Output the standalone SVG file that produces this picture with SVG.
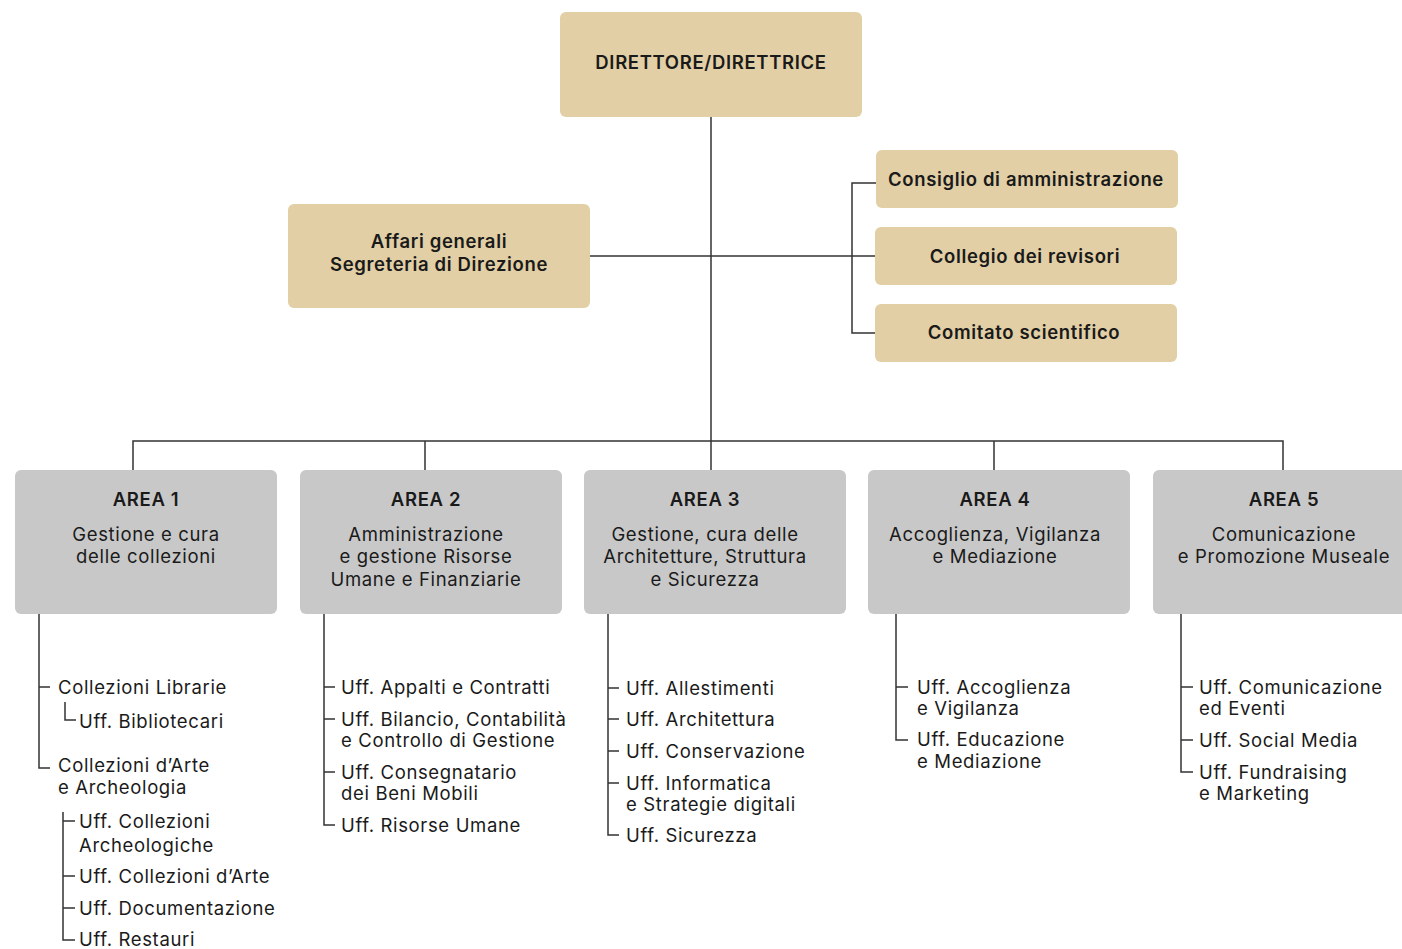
<svg xmlns="http://www.w3.org/2000/svg" width="1402" height="949" viewBox="0 0 1402 949">
<style>
text{font-family:Inter,"Noto Sans","Liberation Sans",sans-serif;fill:#1a1a1a;font-size:18.5px;letter-spacing:0.65px}
.b{font-weight:600}
.c{text-anchor:middle}
.gold{fill:#e2cfa5}
.gray{fill:#c8c8c8}
.ln{stroke:#333;stroke-width:1.5;fill:none}
</style>
<rect width="1402" height="949" fill="#fff"/>
<g id="connectors" class="ln">
<path d="M711 117V470"/>
<path d="M590 256H876"/>
<path d="M876 183H852V333H876"/>
<path d="M133 470V441H1283V470M425 441V470M994 441V470"/>
<path d="M39 614V768H50M39 687H50M65 702V720H76"/>
<path d="M63 812V940H75M63 821H75M63 876H75M63 908H75"/>
<path d="M324 614V825H335M324 687H335M324 719H335M324 772H335"/>
<path d="M608 614V835H619M608 688H619M608 719H619M608 751H619M608 783H619"/>
<path d="M896 614V740H908M896 687H908"/>
<path d="M1181 614V772H1193M1181 687H1193M1181 740H1193"/>
</g>
<g id="direttore"><rect class="gold" x="560" y="12" width="302" height="105" rx="6"/><text class="b c" x="711" y="69">DIRETTORE/DIRETTRICE</text></g>
<g id="affari"><rect class="gold" x="288" y="204" width="302" height="104" rx="6"/><text class="b c" x="439" y="248">Affari generali</text><text class="b c" x="439" y="271">Segreteria di Direzione</text></g>
<g id="consiglio"><rect class="gold" x="876" y="150" width="302" height="58" rx="6"/><text class="b c" x="1026" y="186">Consiglio di amministrazione</text></g>
<g id="collegio"><rect class="gold" x="875" y="227" width="302" height="58" rx="6"/><text class="b c" x="1025" y="263">Collegio dei revisori</text></g>
<g id="comitato"><rect class="gold" x="875" y="304" width="302" height="58" rx="6"/><text class="b c" x="1024" y="339">Comitato scientifico</text></g>
<g id="area1"><rect class="gray" x="15" y="470" width="262" height="144" rx="6"/><text class="b c" x="146" y="506">AREA 1</text><text class="c" x="146" y="541">Gestione e cura</text><text class="c" x="146" y="563">delle collezioni</text></g>
<g id="area2"><rect class="gray" x="300" y="470" width="262" height="144" rx="6"/><text class="b c" x="426" y="506">AREA 2</text><text class="c" x="426" y="541">Amministrazione</text><text class="c" x="426" y="563">e gestione Risorse</text><text class="c" x="426" y="586">Umane e Finanziarie</text></g>
<g id="area3"><rect class="gray" x="584" y="470" width="262" height="144" rx="6"/><text class="b c" x="705" y="506">AREA 3</text><text class="c" x="705" y="541">Gestione, cura delle</text><text class="c" x="705" y="563">Architetture, Struttura</text><text class="c" x="705" y="586">e Sicurezza</text></g>
<g id="area4"><rect class="gray" x="868" y="470" width="262" height="144" rx="6"/><text class="b c" x="995" y="506">AREA 4</text><text class="c" x="995" y="541">Accoglienza, Vigilanza</text><text class="c" x="995" y="563">e Mediazione</text></g>
<g id="area5"><rect class="gray" x="1153" y="470" width="262" height="144" rx="6"/><text class="b c" x="1284" y="506">AREA 5</text><text class="c" x="1284" y="541">Comunicazione</text><text class="c" x="1284" y="563">e Promozione Museale</text></g>
<g id="area1-uffici">
<text x="58" y="694">Collezioni Librarie</text>
<text x="79" y="728">Uff. Bibliotecari</text>
<text x="58" y="772">Collezioni d’Arte</text>
<text x="58" y="794">e Archeologia</text>
<text x="79" y="828">Uff. Collezioni</text>
<text x="79" y="852">Archeologiche</text>
<text x="79" y="883">Uff. Collezioni d’Arte</text>
<text x="79" y="915">Uff. Documentazione</text>
<text x="79" y="946">Uff. Restauri</text>
</g>
<g id="area2-uffici">
<text x="341" y="694">Uff. Appalti e Contratti</text>
<text x="341" y="726">Uff. Bilancio, Contabilità</text>
<text x="341" y="747">e Controllo di Gestione</text>
<text x="341" y="779">Uff. Consegnatario</text>
<text x="341" y="800">dei Beni Mobili</text>
<text x="341" y="832">Uff. Risorse Umane</text>
</g>
<g id="area3-uffici">
<text x="626" y="695">Uff. Allestimenti</text>
<text x="626" y="726">Uff. Architettura</text>
<text x="626" y="758">Uff. Conservazione</text>
<text x="626" y="790">Uff. Informatica</text>
<text x="626" y="811">e Strategie digitali</text>
<text x="626" y="842">Uff. Sicurezza</text>
</g>
<g id="area4-uffici">
<text x="917" y="694">Uff. Accoglienza</text>
<text x="917" y="715">e Vigilanza</text>
<text x="917" y="746">Uff. Educazione</text>
<text x="917" y="768">e Mediazione</text>
</g>
<g id="area5-uffici">
<text x="1199" y="694">Uff. Comunicazione</text>
<text x="1199" y="715">ed Eventi</text>
<text x="1199" y="747">Uff. Social Media</text>
<text x="1199" y="779">Uff. Fundraising</text>
<text x="1199" y="800">e Marketing</text>
</g>
</svg>
